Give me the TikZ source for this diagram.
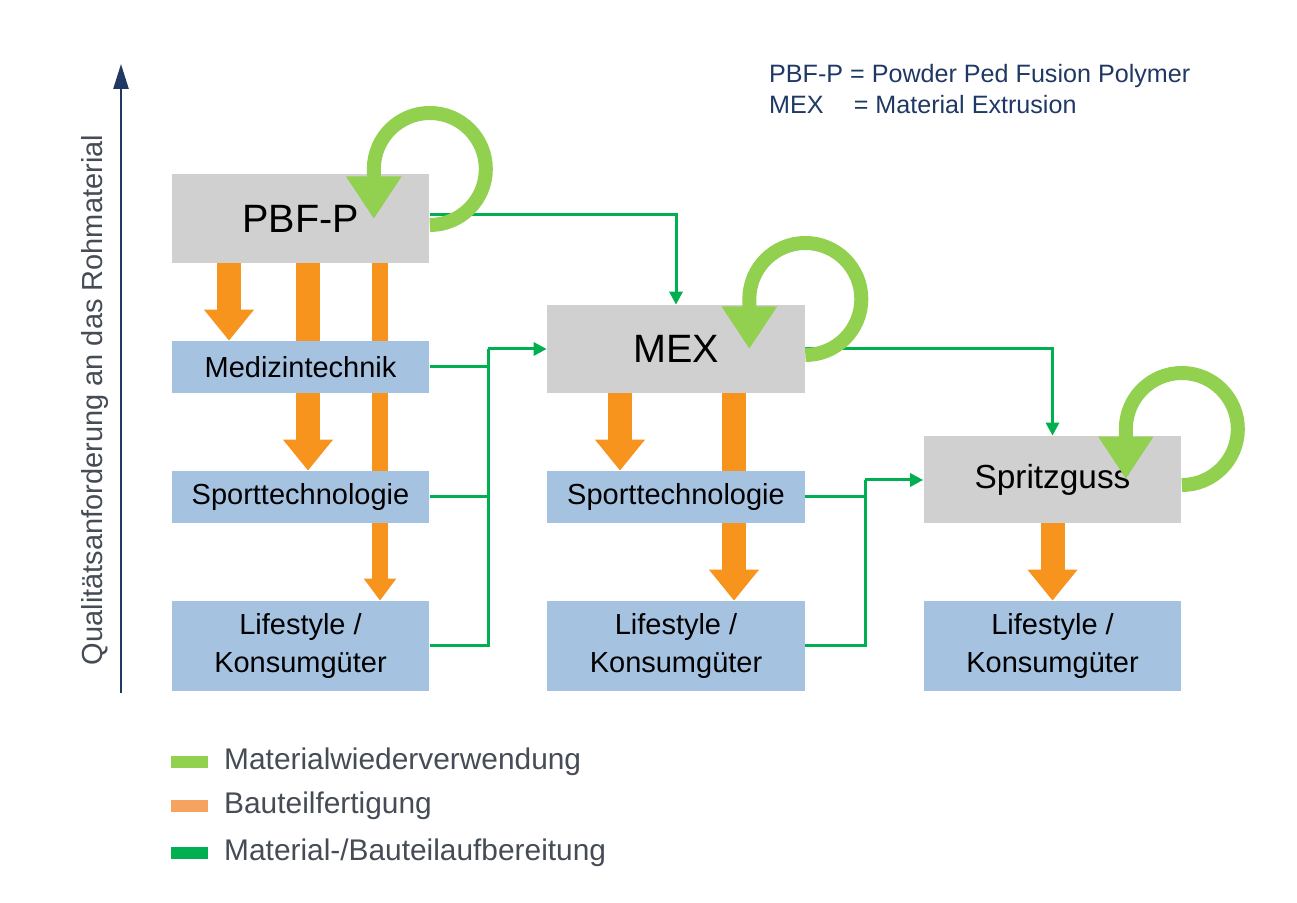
\documentclass[tikz,border=0pt]{standalone}
\usepackage{fontspec}
\setmainfont{Liberation Sans}
\usetikzlibrary{arrows.meta,backgrounds,bending}
\definecolor{boxgray}{HTML}{D0D0D0}
\definecolor{boxblue}{HTML}{A6C2E1}
\definecolor{fertig}{HTML}{F7941D}
\definecolor{fertiglight}{HTML}{F5A35F}
\definecolor{reuse}{HTML}{92D050}
\definecolor{aufber}{HTML}{00B050}
\definecolor{axisblue}{HTML}{1F3864}
\definecolor{txtgray}{HTML}{454C55}
\begin{document}
\begin{tikzpicture}[x=0.02cm,y=0.02cm,
  gbox/.style={fill=boxgray,minimum width=5.16cm,inner sep=0pt,font=\fontsize{22.5}{24}\selectfont},
  bbox/.style={fill=boxblue,minimum width=5.16cm,minimum height=1.04cm,inner sep=0pt,align=center,font=\fontsize{16.5}{21.5}\selectfont},
  fert/.style={fertig,line width=0.48cm,-{Triangle[width=0.96cm,length=0.62cm]}},
  fertthin/.style={fertig,line width=0.32cm,-{Triangle[width=0.62cm,length=0.44cm]}},
  aufb/.style={aufber,line width=0.06cm,-{Triangle[width=0.26cm,length=0.26cm]}},
  aufbl/.style={aufber,line width=0.06cm},
  loop/.style={reuse,line width=0.28cm,-{Triangle[width=1.05cm,length=0.85cm]}}]
\useasboundingbox (0,0) rectangle (1297,902);
% boxes
\node[gbox,minimum height=1.78cm] (pbf) at (300.5,683.5) {PBF-P};
\node[bbox] (med) at (300.5,535) {Medizintechnik};
\node[bbox] (spl) at (300.5,405) {Sporttechnologie};
\node[bbox,minimum height=1.8cm] (lsl) at (300.5,256) {Lifestyle /\\Konsumgüter};
\node[gbox,minimum height=1.76cm] (mex) at (676,553) {MEX};
\node[bbox] (spm) at (676,405) {Sporttechnologie};
\node[bbox,minimum height=1.8cm] (lsm) at (676,256) {Lifestyle /\\Konsumgüter};
\node[gbox,minimum height=1.74cm,font=\fontsize{19}{22}\selectfont] (spr) at (1052.5,422.5) {Spritzguss};
\node[bbox,minimum height=1.8cm] (lsr) at (1052.5,256) {Lifestyle /\\Konsumgüter};
% Bauteilfertigung
\begin{scope}[on background layer]
\draw[fert] (pbf.south -| 229,0) -- (med.north -| 229,0);
\draw[fert] (pbf.south -| 308,0) -- (spl.north -| 308,0);
\draw[fertthin] (pbf.south -| 380,0) -- (lsl.north -| 380,0);
\draw[fert] (mex.south -| 620,0) -- (spm.north -| 620,0);
\draw[fert] (mex.south -| 734,0) -- (lsm.north -| 734,0);
\draw[fert] (spr.south) -- (lsr.north);
\end{scope}
% Material-/Bauteilaufbereitung
\coordinate (j1) at (488,553);
\coordinate (j2) at (865,422);
\draw[aufb] (pbf.east |- 0,687) -| (mex.north);
\draw[aufbl] (med.east) -| (j1);
\draw[aufbl] (spl.east) -| (j1);
\draw[aufbl] (lsl.east) -| (j1);
\draw[aufb] (j1) -- (mex.west |- j1);
\draw[aufb] (mex.east |- j1) -| (spr.north);
\draw[aufbl] (spm.east) -| (j2);
\draw[aufbl] (lsm.east) -| (j2);
\draw[aufb] (j2) -- (spr.west |- j2);
% Materialwiederverwendung
\draw[loop] (pbf.east |- 0,677) arc[start angle=-90,end angle=180,radius=56] -- ++(0,-50);
\draw[loop] (mex.east |- 0,547) arc[start angle=-90,end angle=180,radius=56] -- ++(0,-50);
\draw[loop] (spr.east |- 0,417) arc[start angle=-90,end angle=180,radius=56] -- ++(0,-50);
% axis
\coordinate (a0) at (121,209);
\coordinate (a1) at (121,838);
\draw[axisblue,line width=0.05cm,-{Triangle[width=0.3cm,length=0.5cm]}] (a0) -- (a1);
\node[rotate=90,text=txtgray,font=\fontsize{16.5}{18}\selectfont] (ylab) at (95,502) {Qualitätsanforderung an das Rohmaterial};
% abbreviations
\node[anchor=west,text=axisblue,font=\fontsize{14.3}{17.5}\selectfont,align=left] (abbr) at (763,813)
  {PBF-P = Powder Ped Fusion Polymer\\MEX\hspace{1.2em}= Material Extrusion};
% legend
\foreach \y/\c/\t [count=\i] in {140/reuse/{Materialwiederverwendung},96/fertiglight/{Bauteilfertigung},49/aufber/{Material-/Bauteilaufbereitung}}{
  \fill[\c] (171,\y-6) rectangle (208,\y+6);
  \node[anchor=west,text=txtgray,font=\fontsize{17}{19}\selectfont] (leg\i) at (218,\y) {\t};
}
\end{tikzpicture}
\end{document}
